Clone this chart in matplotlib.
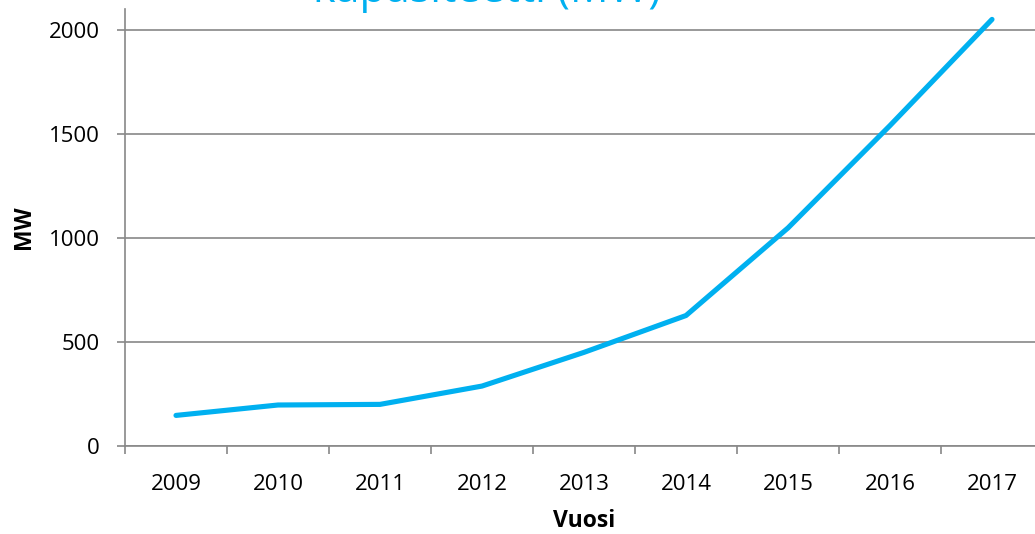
import numpy as np
import matplotlib.pyplot as plt
from matplotlib.ticker import FixedLocator

# data
years = ['2009', '2010', '2011', '2012', '2013', '2014', '2015', '2016', '2017']
mw = [147, 197, 200, 288, 450, 627, 1048, 1540, 2050]
y_ticks = [0, 500, 1000, 1500, 2000]

blue = '#00B0F0'
grey = '#888888'

plt.rcParams['font.family'] = ['Open Sans', 'DejaVu Sans']

fig = plt.figure(figsize=(10.35, 5.34), dpi=100)
ax = fig.add_axes([125/1035, 88/534, 918/1035, 437/534])

x = np.arange(len(years))
ax.plot(x, mw, color=blue, lw=3.7, solid_capstyle='round', solid_joinstyle='round', zorder=3)

ax.set_xlim(-0.5, len(years) - 0.5)
ax.set_ylim(0, 2100)

ax.set_xticks(x)
ax.set_xticklabels(years, fontsize=16)
ax.xaxis.set_minor_locator(FixedLocator(np.arange(-0.5, len(years), 1.0)))
ax.tick_params(axis='x', which='major', length=0, pad=20)
ax.tick_params(axis='x', which='minor', length=6, width=1.2, color=grey, direction='out')

ax.set_yticks(y_ticks)
ax.set_yticklabels([str(v) for v in y_ticks], fontsize=16)
ax.tick_params(axis='y', length=6, width=1.2, color=grey, pad=12)

ax.grid(axis='y', color=grey, lw=1.2)
ax.set_axisbelow(True)
for side in ['top', 'right']:
    ax.spines[side].set_visible(False)
for side in ['left', 'bottom']:
    ax.spines[side].set_color(grey)
    ax.spines[side].set_linewidth(1.2)

ax.set_xlabel('Vuosi', fontsize=16.5, fontweight='bold', labelpad=10)
ax.set_ylabel('MW', fontsize=16.5, fontweight='bold', labelpad=9)

# title cut off at the top edge, only its last line shows
fig.text(487/1035, 1 - 2/534, 'kapasiteetti (MW)', color=blue, fontsize=31,
         ha='center', va='baseline')

fig.savefig('out.png', dpi=100)
